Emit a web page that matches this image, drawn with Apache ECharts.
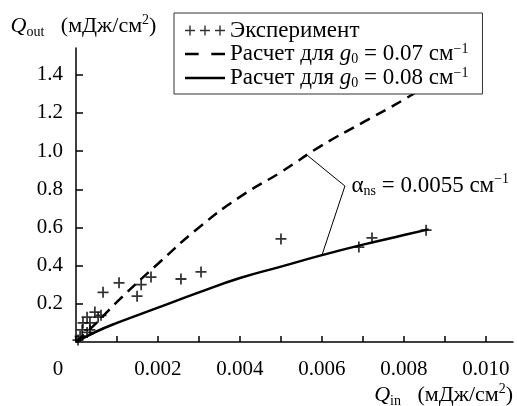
<!DOCTYPE html>
<html style="height: 100%">
<head>
	<meta charset="utf-8">
</head>
<body style="height: 100%; margin: 0; background-color: #fff;">
<div id="container" style="width: 517px; height: 406px"></div>
<script type="text/javascript" src="https://cdn.jsdelivr.net/npm/echarts@6/dist/echarts.min.js"></script>
<script type="text/javascript">
	// measured points (Q_in, Q_out)
	var expX = [0.00005, 0.0001, 0.00015, 0.00017, 0.00027, 0.00034, 0.00027, 0.00034, 0.00054, 0.00046, 0.00061, 0.00066, 0.00105, 0.00149, 0.00159, 0.00183, 0.00256, 0.00305, 0.0050, 0.0069, 0.00722, 0.00854];
	var expY = [0.01, 0.03, 0.063, 0.10, 0.13, 0.10, 0.05, 0.063, 0.13, 0.157, 0.14, 0.26, 0.31, 0.24, 0.30, 0.34, 0.33, 0.367, 0.54, 0.497, 0.545, 0.586];

	// calculated curves
	var calcX = [0, 0.0005, 0.001, 0.002, 0.003, 0.004, 0.005, 0.006, 0.007, 0.008, 0.0086];
	var g07Y = [0, 0.10, 0.21, 0.41, 0.60, 0.76, 0.89, 1.03, 1.15, 1.27, 1.35];
	var g08Y = [0, 0.055, 0.10, 0.18, 0.26, 0.335, 0.395, 0.455, 0.51, 0.56, 0.59];

	// leader lines for the alpha_ns note: dashed end, corner, solid end
	var noteX = [0.00563, 0.00656, 0.0060];
	var noteY = [0.98, 0.817, 0.455];

	var xTicks = [0, 0.001, 0.002, 0.003, 0.004, 0.005, 0.006, 0.007, 0.008, 0.009, 0.010];
	var xLabels = [0, 0.002, 0.004, 0.006, 0.008, 0.010];
	var yTicks = [0.2, 0.4, 0.6, 0.8, 1.0, 1.2, 1.4];

	var serif = 'Liberation Serif';
	var names = ['Эксперимент', 'Расчет для g0 = 0.07 см-1', 'Расчет для g0 = 0.08 см-1'];
	var legendText = {};
	legendText[names[0]] = '{t|Эксперимент}';
	legendText[names[1]] = '{t|Расчет для }{g|g}{sub|0}{t| = 0.07 см}{sup|−1}';
	legendText[names[2]] = '{t|Расчет для }{g|g}{sub|0}{t| = 0.08 см}{sup|−1}';

	function zip(xs, ys) {
		return xs.map(function(x, i) { return [x, ys[i]]; });
	}

	var richQ = {
		q: { fontFamily: serif, fontStyle: 'italic', fontSize: 22, color: '#000' },
		sub: { fontFamily: serif, fontSize: 14, color: '#000', padding: [11, 0, 0, 0] },
		t: { fontFamily: serif, fontSize: 22, color: '#000' },
		sup: { fontFamily: serif, fontSize: 14, color: '#000', padding: [0, 0, 13, 0] }
	};

	var plus = 'path://M0,4.2H10V5.8H0Z M4.2,0H5.8V10H4.2Z';
	var plus3 = 'path://M0,4.3H10V5.7H0Z M4.3,0H5.7V10H4.3Z M15,4.3H25V5.7H15Z M19.3,0H20.7V10H19.3Z M30,4.3H40V5.7H30Z M34.3,0H35.7V10H34.3Z';
	var dash2 = 'path://M0,0H13V2.6H0Z M25,0H38V2.6H25Z';
	var solid1 = 'path://M0,0H38V2.6H0Z';

	var dom = document.getElementById("container");
	var myChart = echarts.init(dom);
	var option = {
		animation: false,
		textStyle: { fontFamily: serif },
		grid: {
			left: 76,
			right: 4,
			top: 48,
			bottom: 64,
			outerBoundsMode: 'none'
		},
		legend: {
			orient: 'vertical',
			left: 174,
			top: 13,
			padding: [6, 14, 4, 11],
			itemGap: 0,
			itemWidth: 40,
			itemHeight: 10,
			backgroundColor: '#fff',
			borderColor: '#333',
			borderWidth: 1,
			borderRadius: 0,
			z: 10,
			data: [
				{ name: names[0], icon: plus3 },
				{ name: names[1], icon: dash2 },
				{ name: names[2], icon: solid1 }
			],
			formatter: function(name) {
				return legendText[name];
			},
			textStyle: {
				fontFamily: serif,
				fontSize: 23,
				color: '#000',
				rich: {
					t: { fontFamily: serif, fontSize: 23, lineHeight: 22, color: '#000' },
					g: { fontFamily: serif, fontStyle: 'italic', fontSize: 23, lineHeight: 22, color: '#000' },
					sub: { fontFamily: serif, fontSize: 14, lineHeight: 12, color: '#000', padding: [10, 0, 0, 0] },
					sup: { fontFamily: serif, fontSize: 14, lineHeight: 12, color: '#000', padding: [0, 0, 10, 0] }
				}
			}
		},
		xAxis: {
			type: 'value',
			min: 0,
			max: 0.01066,
			name: '{q|Q}{sub|in}{t|   (мДж/см}{sup|2}{t|)}',
			nameLocation: 'end',
			nameGap: 0,
			nameTextStyle: {
				align: 'right',
				verticalAlign: 'top',
				padding: [40, 0, 0, 0],
				rich: richQ
			},
			splitLine: { show: false },
			axisLine: { lineStyle: { color: '#000', width: 1.5 } },
			axisTick: {
				inside: true,
				length: 6,
				customValues: xTicks,
				lineStyle: { color: '#000', width: 1.5 }
			},
			axisLabel: {
				customValues: xLabels,
				margin: 17,
				formatter: function(v) {
					if (v === 0) return '{z|0}';
					return '{n|' + v.toFixed(3) + '}';
				},
				rich: {
					n: { fontFamily: serif, fontSize: 21, color: '#000' },
					z: { fontFamily: serif, fontSize: 21, color: '#000', padding: [0, 36, 0, 0] }
				}
			}
		},
		yAxis: {
			type: 'value',
			min: 0,
			max: 1.54,
			name: '{q|Q}{sub|out}{t|   (мДж/см}{sup|2}{t|)}',
			nameLocation: 'end',
			nameGap: 8,
			nameTextStyle: {
				align: 'center',
				padding: [0, 0, 0, 15],
				rich: richQ
			},
			splitLine: { show: false },
			axisLine: { lineStyle: { color: '#000', width: 1.5 } },
			axisTick: {
				inside: true,
				length: 7,
				customValues: yTicks,
				lineStyle: { color: '#000', width: 1.5 }
			},
			axisLabel: {
				customValues: yTicks,
				margin: 13,
				formatter: function(v) {
					return '{n|' + v.toFixed(1) + '}';
				},
				rich: {
					n: { fontFamily: serif, fontSize: 21, color: '#000' }
				}
			}
		},
		series: [
			{
				name: names[0],
				type: 'scatter',
				symbol: plus,
				symbolSize: 11,
				itemStyle: { color: '#000' },
				data: zip(expX, expY),
				z: 5
			},
			{
				name: names[1],
				type: 'line',
				symbol: 'none',
				smooth: true,
				lineStyle: { color: '#000', width: 2.5, type: [11, 7] },
				itemStyle: { color: '#000' },
				data: zip(calcX, g07Y)
			},
			{
				name: names[2],
				type: 'line',
				symbol: 'none',
				smooth: true,
				lineStyle: { color: '#000', width: 2.5 },
				itemStyle: { color: '#000' },
				data: zip(calcX, g08Y)
			},
			{
				name: 'note',
				type: 'line',
				symbol: 'circle',
				symbolSize: 1,
				showSymbol: true,
				itemStyle: { color: 'rgba(0,0,0,0)' },
				lineStyle: { color: '#000', width: 1 },
				silent: true,
				data: zip(noteX, noteY).map(function(p, i) {
					if (i !== 1) return p;
					return {
						value: p,
						label: {
							show: true,
							position: 'right',
							distance: 6,
							formatter: '{a|α}{s|ns}{t| = 0.0055 см}{p|−1}',
							rich: {
								a: { fontFamily: serif, fontSize: 23, color: '#000' },
								s: { fontFamily: serif, fontSize: 14, color: '#000', padding: [11, 0, 0, 0] },
								t: { fontFamily: serif, fontSize: 23, color: '#000' },
								p: { fontFamily: serif, fontSize: 14, color: '#000', padding: [0, 0, 13, 0] }
							}
						}
					};
				})
			}
		]
	};
	myChart.setOption(option);
</script>
</body>
</html>
